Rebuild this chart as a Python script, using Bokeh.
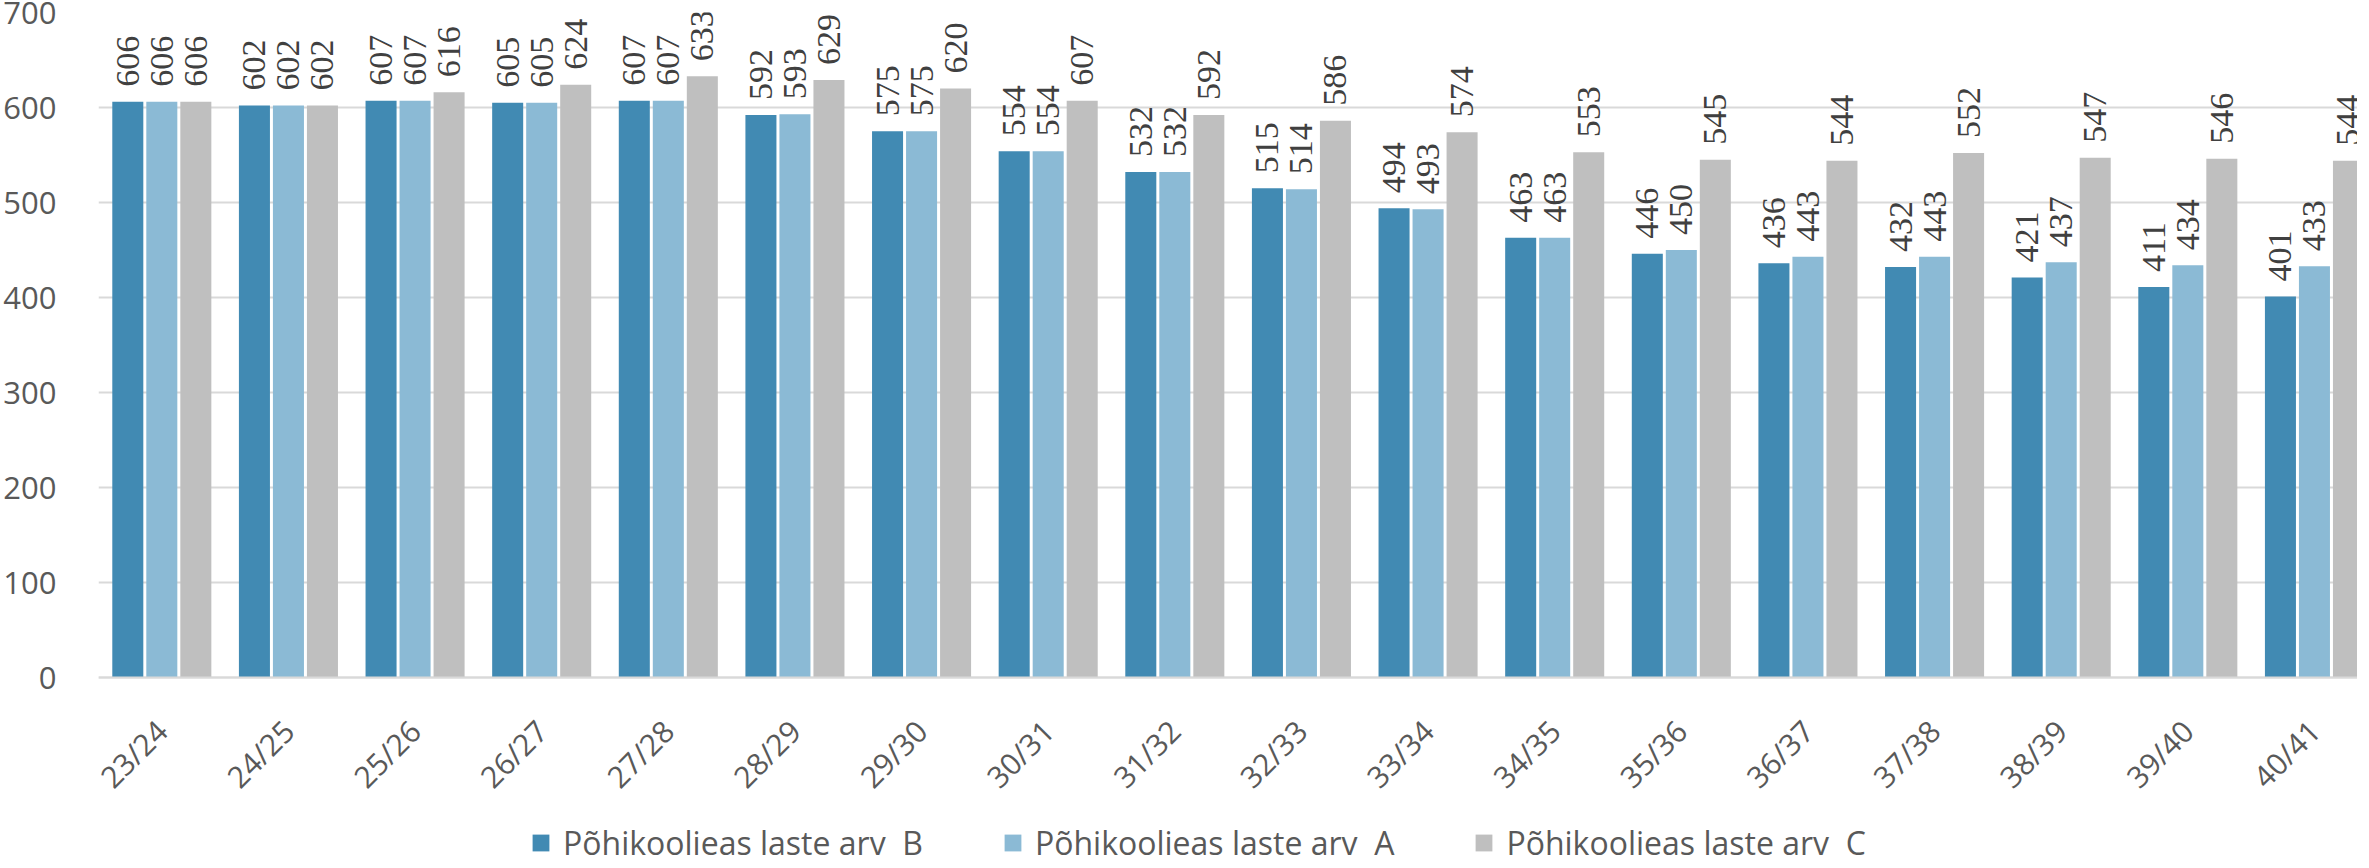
import math
from bokeh.plotting import figure
from bokeh.models import (ColumnDataSource, Range1d, FixedTicker, Legend, LegendItem, LabelSet)
from bokeh.embed import file_html
from bokeh.resources import INLINE

years = ["23/24", "24/25", "25/26", "26/27", "27/28", "28/29", "29/30", "30/31", "31/32",
         "32/33", "33/34", "34/35", "35/36", "36/37", "37/38", "38/39", "39/40", "40/41"]
series_b = [606, 602, 607, 605, 607, 592, 575, 554, 532, 515, 494, 463, 446, 436, 432, 421, 411, 401]
series_a = [606, 602, 607, 605, 607, 593, 575, 554, 532, 514, 493, 463, 450, 443, 443, 437, 434, 433]
series_c = [606, 602, 616, 624, 633, 629, 620, 607, 592, 586, 574, 553, 545, 544, 552, 547, 546, 544]
names = ["Põhikoolieas laste arv  B", "Põhikoolieas laste arv  A", "Põhikoolieas laste arv  C"]
colors = ["#418ab3", "#8bbad5", "#bfbfbf"]
y_ticks = [0, 100, 200, 300, 400, 500, 600, 700]

FONT = "Open Sans"
centers = [i + 0.5 for i in range(len(years))]

p = figure(frame_width=2259, frame_height=848, output_backend="svg", toolbar_location=None,
           x_range=Range1d(0, 17.84), y_range=Range1d(-192.6, 700),
           min_border_left=94, min_border_right=0, min_border_top=12, min_border_bottom=0)
p.outline_line_color = None
p.background_fill_color = "white"
p.border_fill_color = "white"

pitch = 0.2686
bw = 0.245
renderers = []
for k, (vals, col) in enumerate(zip([series_b, series_a, series_c], colors)):
    xs = [c + (k - 1) * pitch for c in centers]
    src = ColumnDataSource(dict(x=xs, top=vals, lab=[str(v) for v in vals]))
    r = p.vbar(x="x", top="top", width=bw, bottom=0, source=src, fill_color=col, line_color=None)
    renderers.append(r)
    p.add_layout(LabelSet(x="x", y="top", text="lab", source=src, angle=math.pi / 2, y_offset=15,
                          text_align="left", text_baseline="middle", text_font=FONT,
                          text_font_size="34px", text_color="#404040"))

# axes
p.xaxis.fixed_location = 0
p.xaxis.ticker = FixedTicker(ticks=centers)
p.xaxis.major_label_overrides = {c: y for c, y in zip(centers, years)}
p.xaxis.major_label_orientation = math.pi / 4
p.xaxis.major_label_standoff = 42
p.xaxis.major_tick_line_color = None
p.xaxis.minor_tick_line_color = None
p.xaxis.axis_line_color = "#d9d9d9"
p.xaxis.axis_line_width = 2
p.xaxis.major_label_text_font = FONT
p.xaxis.major_label_text_font_size = "30px"
p.xaxis.major_label_text_color = "#595959"

p.yaxis.ticker = FixedTicker(ticks=y_ticks)
p.yaxis.major_label_standoff = 36
p.yaxis.major_tick_line_color = None
p.yaxis.minor_tick_line_color = None
p.yaxis.axis_line_color = None
p.yaxis.major_label_text_font = FONT
p.yaxis.major_label_text_font_size = "31px"
p.yaxis.major_label_text_color = "#595959"

p.xgrid.grid_line_color = None
p.ygrid.grid_line_color = "#d9d9d9"
p.ygrid.grid_line_width = 2

legend = Legend(items=[LegendItem(label=n, renderers=[r]) for n, r in zip(names, renderers)],
                orientation="horizontal", location=(432, -4),
                label_text_font=FONT, label_text_font_size="32px", label_text_color="#595959",
                glyph_width=21, glyph_height=21, label_standoff=12, spacing=79,
                border_line_color=None, background_fill_alpha=0, padding=0, margin=0)
p.add_layout(legend, "center")

open("out.html", "w").write(file_html(p, INLINE))
